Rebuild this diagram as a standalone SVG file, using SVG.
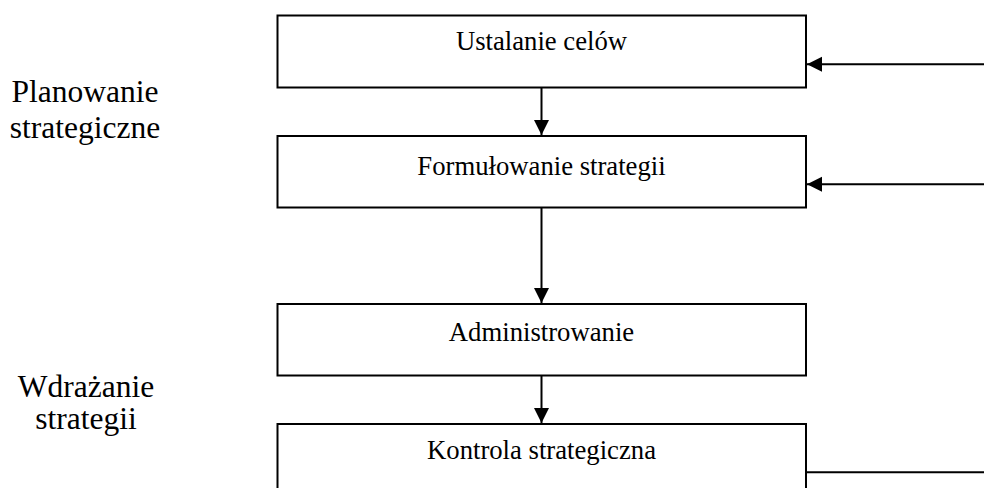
<svg xmlns="http://www.w3.org/2000/svg" width="984" height="488" viewBox="0 0 984 488">
  <style>
    .box { fill: #ffffff; stroke: #000000; stroke-width: 2; }
    .line { fill: none; stroke: #000000; stroke-width: 2; }
    .t { font-family: "Liberation Serif", "Times New Roman", serif; font-size: 26.7px; fill: #000000; text-anchor: middle; }
    .lbl { font-family: "Liberation Serif", "Times New Roman", serif; font-size: 31.5px; fill: #000000; text-anchor: middle; }
  </style>
  <defs>
    <marker id="arr" markerUnits="userSpaceOnUse" markerWidth="16" markerHeight="16" viewBox="0 0 16 16" refX="15" refY="8" orient="auto">
      <path d="M0,0.5 L15,8 L0,15.5 Z" fill="#000000"/>
    </marker>
  </defs>
  <rect x="0" y="0" width="984" height="488" fill="#ffffff"/>

  <g id="label-planowanie">
    <text class="lbl" x="85" y="101.5">Planowanie</text>
    <text class="lbl" x="85" y="138">strategiczne</text>
  </g>
  <g id="label-wdrazanie">
    <text class="lbl" x="86" y="396.5">Wdrażanie</text>
    <text class="lbl" x="86" y="428.5">strategii</text>
  </g>

  <g id="node-ustalanie">
    <rect class="box" x="277.5" y="15.5" width="528.5" height="72"/>
    <text class="t" x="541.5" y="50">Ustalanie celów</text>
  </g>
  <g id="node-formulowanie">
    <rect class="box" x="277.5" y="136" width="528.5" height="71.5"/>
    <text class="t" x="541.5" y="175">Formułowanie strategii</text>
  </g>
  <g id="node-administrowanie">
    <rect class="box" x="277.5" y="304" width="528.5" height="71.5"/>
    <text class="t" x="541.5" y="341">Administrowanie</text>
  </g>
  <g id="node-kontrola">
    <rect class="box" x="277.5" y="424" width="528.5" height="80"/>
    <text class="t" x="541.5" y="459">Kontrola strategiczna</text>
  </g>

  <g id="connectors">
    <line class="line" x1="541.5" y1="87.5" x2="541.5" y2="135" marker-end="url(#arr)"/>
    <line class="line" x1="541.5" y1="207.5" x2="541.5" y2="303" marker-end="url(#arr)"/>
    <line class="line" x1="541.5" y1="375.5" x2="541.5" y2="423" marker-end="url(#arr)"/>
    <line class="line" x1="984" y1="64.3" x2="807" y2="64.3" marker-end="url(#arr)"/>
    <line class="line" x1="984" y1="184.3" x2="807" y2="184.3" marker-end="url(#arr)"/>
    <line class="line" x1="806" y1="472.3" x2="984" y2="472.3"/>
  </g>
</svg>
